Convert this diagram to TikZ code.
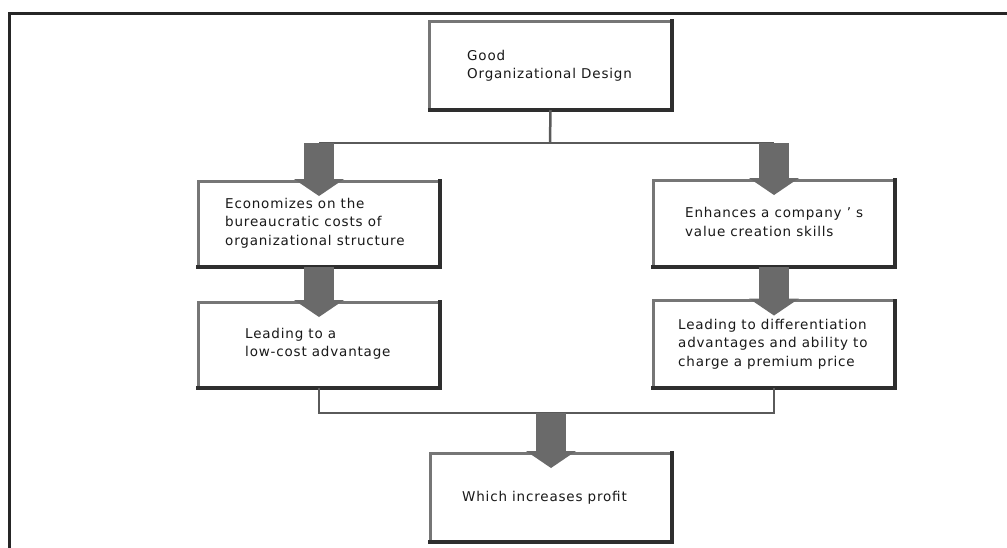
\documentclass[tikz,border=0pt]{standalone}
\usepackage{fontspec}
\setmainfont{DejaVu Sans}[LetterSpace=6]
\usetikzlibrary{arrows.meta,calc}

\definecolor{boxedge}{HTML}{767676}
\definecolor{boxshade}{HTML}{2E2E2E}
\definecolor{arrowfill}{HTML}{6A6A6A}
\definecolor{linecol}{HTML}{5A5A5A}

\tikzset{
  stepbox/.style={draw=boxedge, line width=3pt, fill=white, rectangle,
    inner sep=0pt, outer sep=0pt, minimum width=242pt},
  boxtext/.style={anchor=west, align=left, inner sep=0pt, text=black!90,
    font=\fontsize{13.5}{18.5}\selectfont},
  conn/.style={draw=linecol, line width=2.5pt},
  bigarrow/.style={draw=arrowfill, line width=30pt,
    -{Triangle[width=50pt,length=17pt,line width=0pt]}},
  frameline/.style={draw=black!85, line width=3pt}
}

% shaded lower and right edges of a box
\newcommand{\boxshade}[1]{%
  \draw[boxshade, line width=4pt, line cap=rect]
    (#1.south west) -- (#1.south east) -- (#1.north east);}

\begin{document}
\begin{tikzpicture}[x=1pt, y=-1pt]
  \useasboundingbox (0,0) rectangle (1007,547);

  % outer frame
  \draw[frameline] (1010,13) -- (9,13) -- (9,550);

  % boxes
  \node[stepbox, minimum height=89pt] (top) at (550.5,65.5) {};
  \node[stepbox, minimum height=86pt] (l1) at (319,224) {};
  \node[stepbox, minimum height=86pt] (l2) at (319,345) {};
  \node[stepbox, minimum height=87pt] (r1) at (774,223.5) {};
  \node[stepbox, minimum height=87pt] (r2) at (774,344) {};
  \node[stepbox, minimum height=89pt] (res) at (551,497.5) {};

  \foreach \b in {top,l1,l2,r1,r2,res} {\boxshade{\b}}

  % connector lines
  \coordinate (splitbus) at (550,143);
  \coordinate (joinbus) at (550,413);
  \draw[conn] (top.south) -- (splitbus);
  \draw[conn] (l1.north |- splitbus) -- (r1.north |- splitbus);
  \draw[conn] (l2.south) -- (l2.south |- joinbus) -- (r2.south |- joinbus) -- (r2.south);

  % block arrows
  \draw[bigarrow] (l1.north |- splitbus) -- ($(l1.north)+(0,15)$);
  \draw[bigarrow] (r1.north |- splitbus) -- ($(r1.north)+(0,15)$);
  \draw[bigarrow] (l1.south) -- ($(l2.north)+(0,15)$);
  \draw[bigarrow] (r1.south) -- ($(r2.north)+(0,15)$);
  \draw[bigarrow] (res.north |- joinbus) -- ($(res.north)+(0,15)$);

  % box texts
  \node[boxtext] (toptxt) at (467,66) {Good\\Organizational Design};
  \node[boxtext] (l1txt) at (225,223) {Economizes on the\\bureaucratic costs of\\organizational structure};
  \node[boxtext] (l2txt) at (245,344) {Leading to a\\low-cost advantage};
  \node[boxtext] (r1txt) at (685,222) {Enhances a company ' s\\value creation skills};
  \node[boxtext] (r2txt) at (678,344) {Leading to differentiation\\advantages and ability to\\charge a premium price};
  \node[boxtext] (restxt) at (462,498) {Which increases profit};
\end{tikzpicture}
\end{document}
